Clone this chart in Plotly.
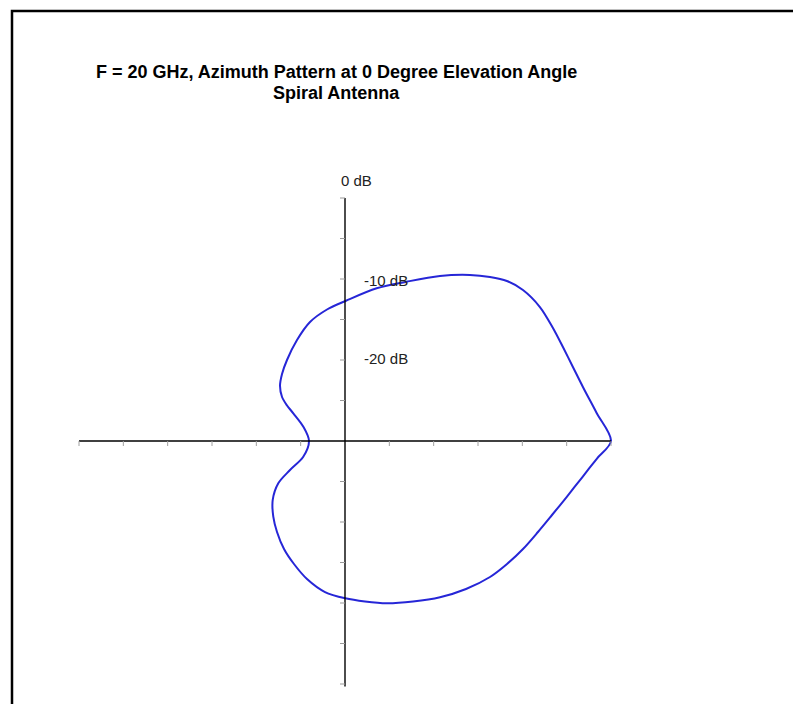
import numpy as np
import plotly.graph_objects as go

# Azimuth pattern of the spiral antenna at 20 GHz (0 deg elevation)
azimuth_deg = [0, 6.95, 13.96, 19.57, 25.27, 30.75, 36.96, 42.88, 47.25, 51.08,
               55.49, 62.27, 70.52, 79.27, 89.6, 97.13, 105.04, 113.47, 123.19,
               130.66, 137.19, 142.6, 146.17, 149.61, 159.43, 180, 202.4, 209.99,
               214.77, 221.77, 229.13, 235.68, 242.71, 249.25, 255.88, 263.1,
               270.1, 276.5, 283.2, 291.16, 299.04, 306.76, 314.24, 320.27,
               326.41, 332.7, 338.63, 344.69, 350.43, 355.65, 360]
gain_db = [0, -1.41, -2.35, -2.72, -2.82, -2.71, -2.49, -2.61, -3.10, -3.98,
           -5.13, -6.99, -9.14, -10.81, -12.68, -13.64, -14.79, -16.41, -18.05,
           -19.10, -20.01, -21.06, -22.13, -23.24, -24.98, -25.94, -24.91, -22.84,
           -20.84, -19.07, -17.64, -16.40, -15.00, -13.76, -12.43, -11.22,
           -10.58, -10.06, -9.42, -8.75, -7.93, -7.19, -6.56, -6.24,
           -5.90, -5.51, -4.93, -4.04, -2.89, -1.50, 0]

# Radial scale: 0 dB at the outer edge, -30 dB at the centre
db_floor = -30
db_labels = ["0 dB", "-10 dB", "-20 dB"]
db_label_values = [0, -10, -20]
tick_step = 5

title_line1 = "F = 20 GHz, Azimuth Pattern at 0 Degree Elevation Angle"
title_line2 = "Spiral Antenna"

W, H = 793, 704
OX, OY = 345, 441            # pixel position of the pattern centre
SX, SY = 266 / 30, 243 / 30  # pixels per radial unit along x and y

r = np.array(gain_db) - db_floor
th = np.radians(azimuth_deg)
x = r * np.cos(th)
y = r * np.sin(th)

R = -db_floor
fig = go.Figure()
fig.add_trace(go.Scatter(x=x, y=y, mode="lines",
                         line=dict(color="rgb(38,38,215)", width=2, shape="spline", smoothing=0.9),
                         hoverinfo="skip", showlegend=False))

shapes = []
# axis lines
shapes.append(dict(type="line", xref="x", yref="y", x0=-R, x1=R, y0=0, y1=0,
                   line=dict(color="black", width=1.4)))
shapes.append(dict(type="line", xref="x", yref="y", x0=0, x1=0, y0=-R - 0.3, y1=R,
                   line=dict(color="black", width=1.4)))
# tick marks
tl_x = 5 / SX
tl_y = 5 / SY
for k in range(tick_step, R + 1, tick_step):
    for s in (-1, 1):
        shapes.append(dict(type="line", xref="x", yref="y", x0=s * k, x1=s * k, y0=0, y1=-tl_y,
                           line=dict(color="#a0a0a0", width=1)))
        shapes.append(dict(type="line", xref="x", yref="y", x0=-tl_x, x1=0, y0=s * k, y1=s * k,
                           line=dict(color="#999999", width=1)))
# frame
shapes.append(dict(type="rect", xref="paper", yref="paper",
                   x0=12 / W, x1=1.05, y0=1 - 11 / H, y1=-0.05,
                   line=dict(color="black", width=2.5)))

annotations = []
label_font = dict(family="Liberation Sans, Arial, sans-serif", size=15, color="#222222")
label_yshift = {0: 0, -10: -1, -20: 2}
for txt, val in zip(db_labels, db_label_values):
    rr = val - db_floor
    if val == 0:
        annotations.append(dict(x=-6 / SX, y=rr + 18 / SY, xref="x", yref="y", text=txt,
                                showarrow=False, xanchor="left", yanchor="middle", font=label_font))
    else:
        annotations.append(dict(x=17 / SX, y=rr, xref="x", yref="y", text=txt,
                                yshift=label_yshift[val],
                                showarrow=False, xanchor="left", yanchor="middle", font=label_font))

title_font = dict(family="Liberation Sans, Arial, sans-serif", size=18, color="black")
annotations.append(dict(x=336 / W, y=1 - 72 / H, xref="paper", yref="paper",
                        text="<b>" + title_line1 + "</b>", showarrow=False,
                        xanchor="center", yanchor="middle", font=title_font))
annotations.append(dict(x=336 / W, y=1 - 93 / H, xref="paper", yref="paper",
                        text="<b>" + title_line2 + "</b>", showarrow=False,
                        xanchor="center", yanchor="middle", font=title_font))

fig.update_layout(
    width=W, height=H,
    margin=dict(l=0, r=0, t=0, b=0),
    paper_bgcolor="white", plot_bgcolor="white",
    xaxis=dict(range=[-OX / SX, (W - OX) / SX], visible=False, fixedrange=True),
    yaxis=dict(range=[-(H - OY) / SY, OY / SY], visible=False, fixedrange=True),
    shapes=shapes, annotations=annotations,
    showlegend=False,
)

fig.write_html("out.html")
